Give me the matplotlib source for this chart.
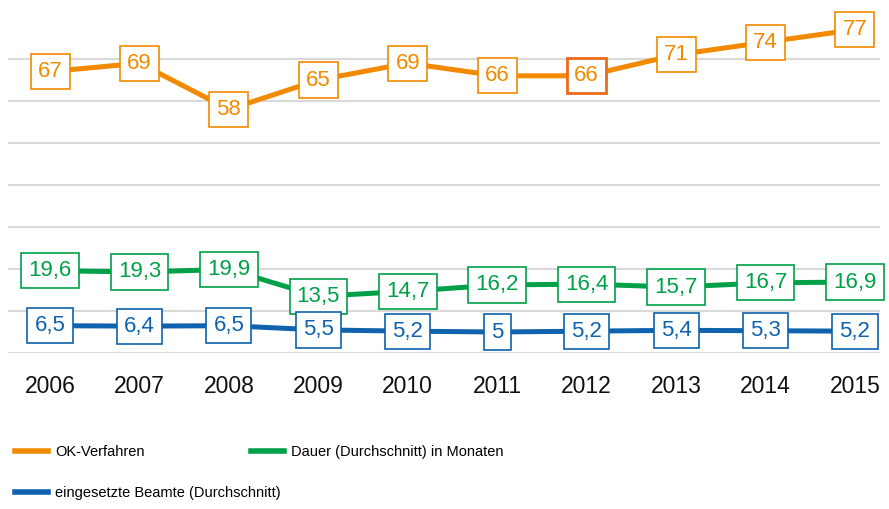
import matplotlib
matplotlib.use("Agg")
import matplotlib.pyplot as plt
from matplotlib.lines import Line2D

years = ["2006", "2007", "2008", "2009", "2010", "2011", "2012", "2013", "2014", "2015"]
ok_verfahren = [67, 69, 58, 65, 69, 66, 66, 71, 74, 77]
dauer = [19.6, 19.3, 19.9, 13.5, 14.7, 16.2, 16.4, 15.7, 16.7, 16.9]
beamte = [6.5, 6.4, 6.5, 5.5, 5.2, 5.0, 5.2, 5.4, 5.3, 5.2]
series_names = ["OK-Verfahren", "Dauer (Durchschnitt) in Monaten", "eingesetzte Beamte (Durchschnitt)"]

c_orange = "#F28A00"
c_green = "#00A048"
c_blue = "#0E62AE"
c_highlight = "#EB6A1A"

plt.rcParams['font.family'] = ['Liberation Sans', 'DejaVu Sans']

fig = plt.figure(figsize=(8.89, 5.09), dpi=100)
ax = fig.add_axes([8/889, 1-353/509, 872/889, (353-17)/509])

x = list(range(len(years)))
ax.set_xlim(-0.47, 9.28)
ax.set_ylim(0, 80)
ax.set_yticks(range(0, 80, 10))
ax.yaxis.grid(True, color="#D9D9D9", linewidth=1.5)
ax.set_axisbelow(True)
ax.tick_params(axis='y', left=False, labelleft=False)
ax.tick_params(axis='x', bottom=False, pad=12, labelsize=16.5, labelcolor="#111111")
ax.set_xticks(x)
ax.set_xticklabels(years)
for s in ax.spines.values():
    s.set_visible(False)

def fmt(v):
    return f"{v:g}".replace('.', ',')

data = [(ok_verfahren, c_orange, 3), (dauer, c_green, 4), (beamte, c_blue, 5)]
for vals, col, z in data:
    ax.plot(x, vals, color=col, linewidth=3.6, solid_capstyle='butt', zorder=2)
for vals, col, z in data:
    for i, v in enumerate(vals):
        ec = col
        lw = 1.2
        if vals is ok_verfahren and i == 6:
            ec = c_highlight
            lw = 2.0
        ax.text(i, v, fmt(v), ha='center', va='center', fontsize=16, color=col, zorder=z,
                bbox=dict(boxstyle='square,pad=0.32', fc='white', ec=ec, lw=lw))

lp = {'family': ['Liberation Sans', 'DejaVu Sans'], 'size': 10.5}
h1 = [Line2D([], [], color=c_orange, lw=4), Line2D([], [], color=c_green, lw=4)]
leg1 = fig.legend(h1, series_names[:2], loc='center left', bbox_to_anchor=(15/889, 1-452/509),
                  ncol=2, frameon=False, handlelength=2.26, handletextpad=0.48,
                  columnspacing=7.3, borderaxespad=0, borderpad=0, prop=lp)
h2 = [Line2D([], [], color=c_blue, lw=4)]
leg2 = fig.legend(h2, series_names[2:], loc='center left', bbox_to_anchor=(15/889, 1-493/509),
                  frameon=False, handlelength=2.26, handletextpad=0.48,
                  borderaxespad=0, borderpad=0, prop=lp)

fig.savefig("out.png", dpi=100)
